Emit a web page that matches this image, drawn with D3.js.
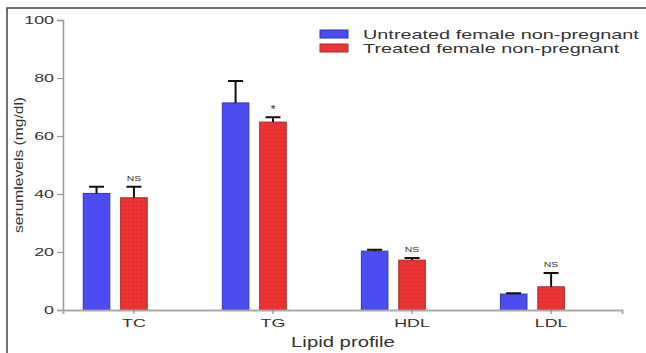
<!DOCTYPE html>
<html>
<head>
<meta charset="utf-8">
<script src="https://cdn.jsdelivr.net/npm/d3@7"></script>
<style>
  body { margin: 0; background: #fff; }
  text { font-family: "Liberation Sans", Arial, sans-serif; fill: #333; }
</style>
</head>
<body>
<svg></svg>
<script>
// chart data
let categories = ["TC", "TG", "HDL", "LDL"]
let series = ["Untreated female non-pregnant", "Treated female non-pregnant"]
let untreated = [40.2, 71.4, 20.3, 5.5]
let untreatedErr = [2.3, 7.6, 0.5, 0.3]
let treated = [38.7, 64.8, 17.2, 8.0]
let treatedErr = [3.8, 1.7, 0.7, 4.8]
let sigLabels = ["NS", "*", "NS", "NS"]
let yTicks = [0, 20, 40, 60, 80, 100]

let colors = ["#4b4cf2", "#ec3434"]
let strokes = ["#3333b0", "#b02a2a"]

let width = 646
let height = 353

let svg = d3.select("svg")
    .attr("width", width)
    .attr("height", height)

// pattern for the dotted red bars
let defs = svg.append("defs")
let pat = defs.append("pattern")
    .attr("id", "dots")
    .attr("width", 4)
    .attr("height", 4)
    .attr("patternUnits", "userSpaceOnUse")
pat.append("rect").attr("width", 4).attr("height", 4).attr("fill", colors[1])
pat.append("circle").attr("cx", 2).attr("cy", 2).attr("r", 0.8).attr("fill", "#d42424")

// stretch text horizontally, the picture is wider than it is tall
let stretch = (sel, k) => {
    sel.each(function () {
        let len = this.getComputedTextLength()
        d3.select(this).attr("textLength", len * k).attr("lengthAdjust", "spacingAndGlyphs")
    })
}

// frame (only left and top edges are visible)
svg.append("path")
    .attr("d", "M7,353V8H646")
    .attr("fill", "none")
    .attr("stroke", "#444")
    .attr("stroke-width", 1.5)

// scales
let yScale = d3.scaleLinear()
    .domain([0, 100])
    .range([310, 20])

let x0 = d3.scaleBand()
    .domain(categories)
    .range([63, 622])
    .paddingInner(0.54)
    .paddingOuter(0.28)
    .align(0.26)

let x1 = d3.scaleBand()
    .domain(series)
    .range([0, x0.bandwidth()])
    .paddingInner(0.29)

let rows = categories.map((c, i) => ({
    cat: c,
    bars: [
        { s: series[0], v: untreated[i], e: untreatedErr[i], k: 0 },
        { s: series[1], v: treated[i], e: treatedErr[i], k: 1, sig: sigLabels[i] }
    ]
}))

// y axis
let yAxis = d3.axisLeft(yScale).tickValues(yTicks).tickSize(6).tickPadding(3)
let gy = svg.append("g")
    .attr("transform", "translate(63,0)")
    .call(yAxis)
gy.select(".domain").attr("stroke", "#999").attr("stroke-width", 1.5)
gy.selectAll(".tick line").attr("stroke", "#999").attr("stroke-width", 1.2)
gy.selectAll(".tick text")
    .attr("font-size", 10.5)
    .attr("fill", "#444")
    .call(stretch, 1.7)

// groups and bars
let groups = svg.selectAll(".group")
    .data(rows)
    .enter()
    .append("g")
    .attr("class", "group")
    .attr("transform", d => "translate(" + x0(d.cat) + ",0)")

groups.selectAll("rect")
    .data(d => d.bars)
    .enter()
    .append("rect")
    .attr("x", d => x1(d.s))
    .attr("y", d => yScale(d.v))
    .attr("width", x1.bandwidth())
    .attr("height", d => yScale(0) - yScale(d.v))
    .attr("fill", d => d.k === 0 ? colors[0] : "url(#dots)")
    .attr("stroke", d => strokes[d.k])
    .attr("stroke-width", 1)

// error bars (upper only)
let capW = 15
groups.selectAll(".err")
    .data(d => d.bars)
    .enter()
    .append("path")
    .attr("class", "err")
    .attr("d", d => {
        let cx = x1(d.s) + x1.bandwidth() / 2
        return "M" + cx + "," + yScale(d.v) + "V" + yScale(d.v + d.e) +
            "M" + (cx - capW / 2) + "," + yScale(d.v + d.e) + "H" + (cx + capW / 2)
    })
    .attr("stroke", "#111")
    .attr("stroke-width", 2)
    .attr("fill", "none")

// significance marks
groups.selectAll(".sig")
    .data(d => d.bars.filter(b => b.sig))
    .enter()
    .append("text")
    .attr("class", "sig")
    .attr("x", d => x1(d.s) + x1.bandwidth() / 2)
    .attr("y", d => yScale(d.v + d.e) - (d.sig === "*" ? 4 : 6))
    .attr("text-anchor", "middle")
    .attr("font-size", d => d.sig === "*" ? 10 : 8)
    .attr("fill", "#555")
    .text(d => d.sig)
    .call(stretch, 1.3)

// x axis
let xAxis = d3.axisBottom(x0).tickSize(4).tickPadding(5)
let gx = svg.append("g")
    .attr("transform", "translate(0,310)")
    .call(xAxis)
gx.select(".domain").attr("stroke", "#aaa").attr("stroke-width", 2)
// ticks sit under the treated bar
gx.selectAll(".tick")
    .attr("transform", d => "translate(" + (x0(d) + x1(series[1]) + x1.bandwidth() / 2) + ",0)")
gx.selectAll(".tick line").attr("stroke", "#777").attr("stroke-width", 1)
gx.selectAll(".tick text")
    .attr("font-size", 11.5)
    .attr("fill", "#333")
    .call(stretch, 1.55)

// axis titles
svg.append("text")
    .attr("x", 343)
    .attr("y", 347)
    .attr("text-anchor", "middle")
    .attr("font-size", 14)
    .attr("fill", "#222")
    .text("Lipid profile")
    .call(stretch, 1.45)

svg.append("text")
    .attr("transform", "translate(23,165) rotate(-90)")
    .attr("text-anchor", "middle")
    .attr("font-size", 12)
    .attr("fill", "#333")
    .text("serumlevels (mg/dl)")
    .call(stretch, 1.3)

// legend
let legend = svg.selectAll(".legend")
    .data(series)
    .enter()
    .append("g")
    .attr("class", "legend")
    .attr("transform", (d, i) => "translate(320," + (30 + i * 14) + ")")

legend.append("rect")
    .attr("width", 28)
    .attr("height", 8)
    .attr("fill", (d, i) => colors[i])
    .attr("stroke", (d, i) => strokes[i])

legend.append("text")
    .attr("x", 43)
    .attr("y", 9)
    .attr("font-size", 13.5)
    .attr("fill", "#222")
    .text(d => d)
    .call(stretch, 1.47)
</script>
</body>
</html>
